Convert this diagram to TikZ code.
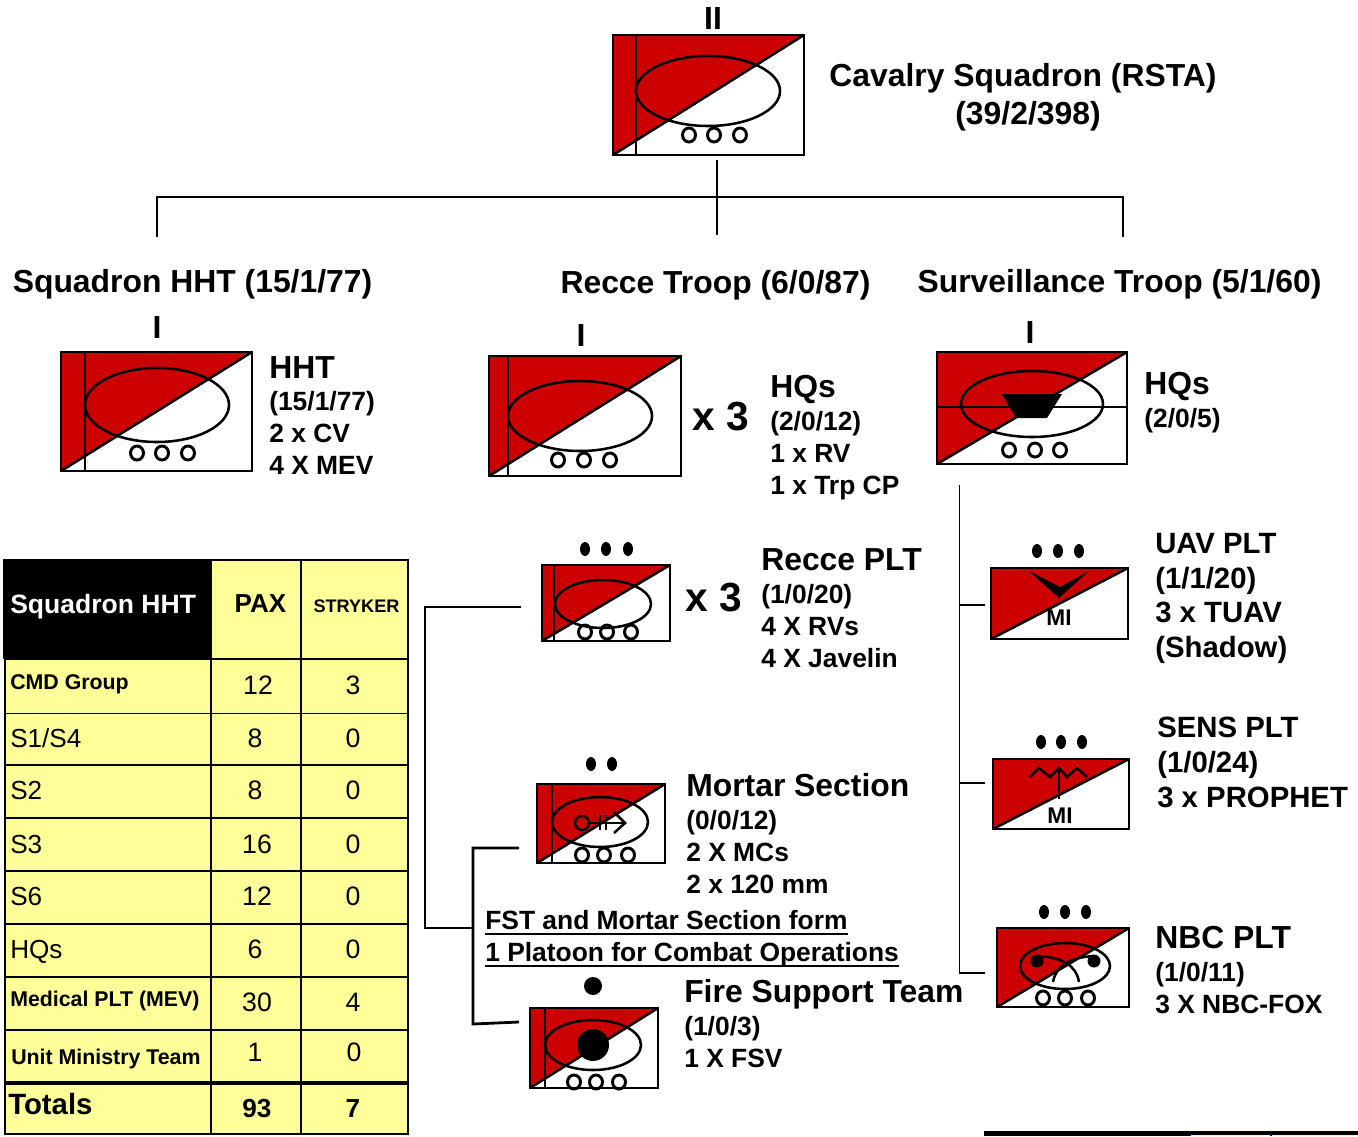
\documentclass[tikz,border=0pt]{standalone}
\usepackage{fontspec}
\setmainfont{Liberation Sans}
\definecolor{unitred}{HTML}{CC0000}
\definecolor{cellyellow}{HTML}{FFFF99}

\tikzset{
	unitline/.style={line width=1.9pt},
	conn/.style={line width=1.4pt},
	connthick/.style={line width=2.1pt},
	rowrule/.style={line width=0.8pt},
	rowrulethick/.style={line width=2.2pt},
	lbl/.style={font=\bfseries\fontsize{19.8}{24}\selectfont, align=left, anchor=north west, inner sep=0pt},
	lblwide/.style={font=\bfseries\fontsize{22}{26}\selectfont, align=left, anchor=north west, inner sep=0pt},
	title/.style={font=\bfseries\fontsize{23.9}{28.5}\selectfont, align=center, inner sep=0pt},
	echelon/.style={font=\bfseries\fontsize{24}{24}\selectfont, inner sep=0pt},
	times/.style={font=\bfseries\fontsize{30.5}{30.5}\selectfont, inner sep=0pt},
	branch/.style={font=\bfseries\fontsize{17}{17}\selectfont, inner sep=0pt},
	rowname/.style={anchor=west, inner sep=0pt},
	rowplain/.style={font=\fontsize{19.6}{19.6}\selectfont},
	rowbold/.style={font=\bfseries\fontsize{16}{16}\selectfont},
	cellnum/.style={font=\fontsize{20}{20}\selectfont, inner sep=0pt},
}

\newcommand{\hd}[1]{{\fontsize{23.9}{24}\selectfont #1}}
\newlength{\ulwidth}
\newcommand{\thickul}[1]{\settowidth{\ulwidth}{#1}\rlap{\rule[-4.4pt]{\ulwidth}{2pt}}#1}

% box with the red half and the diagonal
\newcommand{\unitbox}[4]{
	\fill[unitred] (#1,#2) -- (#3,#2) -- (#1,#4) -- cycle;
	\draw[unitline] (#1,#2) rectangle (#3,#4);
	\draw[unitline] (#1,#4) -- (#3,#2);
}
\newcommand{\rings}[2]{
	\foreach \cx in {#2} \draw[line width=2.2pt] (\cx,#1) ellipse [x radius=6.5, y radius=7];
}
\newcommand{\pltdots}[2]{
	\foreach \cx in {#2} \fill (\cx,#1) ellipse [x radius=5, y radius=7];
}

\begin{document}
\begin{tikzpicture}[x=0.75pt,y=-0.75pt]
	\useasboundingbox (0,0) rectangle (1358,1136);

	% squadron
	\node[echelon] (sqnmark) at (713,18) {II};
	\unitbox{613}{35}{804}{155}
	\draw[unitline] (636,35) -- (636,155);
	\draw[unitline] (708,91) ellipse [x radius=72, y radius=35];
	\rings{135}{689,714,740}
	\node[title] (sqntext) at (1023,97) {Cavalry Squadron (RSTA)\\\hspace*{7.5pt}(39/2/398)};

	% tree under the squadron
	\coordinate (treetop) at (717,160);
	\coordinate (treecen) at (717,235);
	\coordinate (treeleft) at (157,197);
	\coordinate (treeleftend) at (157,237);
	\coordinate (treeright) at (1123,197);
	\coordinate (treerightend) at (1123,237);
	\draw[conn] (treetop) -- (treecen);
	\draw[conn] (treeleftend) -- (treeleft) -- (treeright) -- (treerightend);

	\node[title] (hhttitle) at (192.5,284) {Squadron HHT (15/1/77)};
	\node[title] (reccetitle) at (715.5,285) {Recce Troop (6/0/87)};
	\node[title] (survtitle) at (1119.5,284) {Surveillance Troop (5/1/60)};

	% HHT
	\node[echelon] (hhtmark) at (157,327) {I};
	\unitbox{61}{352}{252}{471}
	\draw[unitline] (85,352) -- (85,471);
	\draw[unitline] (157,405) ellipse [x radius=72, y radius=37];
	\rings{453}{137,162,188}
	\node[lbl] (hhttext) at (269,356) {\hd{HHT}\\[0.3pt](15/1/77)\\2 x CV\\4 X MEV};

	% recce troop
	\node[echelon] (reccemark) at (581,335) {I};
	\unitbox{489}{356}{681}{476}
	\draw[unitline] (508,356) -- (508,476);
	\draw[unitline] (580,416) ellipse [x radius=72, y radius=35];
	\rings{460}{558,584,610}
	\node[times] (reccetimes) at (721,417) {x 3};
	\node[lbl] (reccetext) at (770,375) {\hd{HQs}\\[1pt](2/0/12)\\1 x RV\\1 x Trp CP};

	% surveillance troop
	\node[echelon] (survmark) at (1030,332) {I};
	\unitbox{937}{352}{1127}{464}
	\draw[line width=1pt] (937,407) -- (1127,407);
	\draw[unitline] (1032,404) ellipse [x radius=71, y radius=33];
	\fill (1002,394) -- (1062,394) -- (1047,418) -- (1016,418) -- cycle;
	\rings{450}{1009,1035,1060}
	\node[lbl] (survtext) at (1144,372) {\hd{HQs}\\[1pt](2/0/5)};

	% recce platoon
	\pltdots{549}{585,606,628}
	\unitbox{542}{565}{670}{641}
	\draw[unitline] (554,565) -- (554,641);
	\draw[unitline] (603,604) ellipse [x radius=48, y radius=24];
	\rings{632}{585,607,631}
	\node[times] (plttimes) at (714,598) {x 3};
	\node[lbl] (plttext) at (761,548) {\hd{Recce PLT}\\[1pt](1/0/20)\\4 X RVs\\4 X Javelin};

	% mortar section
	\pltdots{764}{591,612}
	\unitbox{537}{784}{665}{863}
	\draw[unitline] (552,784) -- (552,863);
	\draw[unitline] (600,822) ellipse [x radius=48, y radius=25];
	\draw[unitline] (582,823) circle [radius=7];
	\draw[unitline] (589,823) -- (625,823);
	\draw[unitline] (614,812) -- (625,823) -- (614,833);
	\draw[unitline] (600,815) -- (600,830) (606,815) -- (606,830);
	\rings{855}{582,604,628}
	\node[lbl] (mortext) at (686,773) {\hd{Mortar Section}\\[1pt](0/0/12)\\2 X MCs\\2 x 120 mm};

	% note between the two
	\node[lbl] (fstnote) at (485,910) {\thickul{FST and Mortar Section form}\\\thickul{1 Platoon for Combat Operations}};

	% fire support team
	\fill (593,986) circle [radius=9];
	\unitbox{530}{1008}{658}{1088}
	\draw[unitline] (545,1008) -- (545,1088);
	\draw[unitline] (593,1045) ellipse [x radius=48, y radius=25];
	\fill (593,1045) circle [radius=16];
	\rings{1082}{574,596,619}
	\node[lbl] (fsttext) at (684,979) {\hd{Fire Support Team}\\[1pt](1/0/3)\\1 X FSV};

	% brackets on the left of the platoons
	\coordinate (brkatop) at (521,607);
	\coordinate (brkatopin) at (425,607);
	\coordinate (brkabot) at (425,928);
	\coordinate (brkabotend) at (473,928);
	\draw[conn] (brkatop) -- (brkatopin) -- (brkabot) -- (brkabotend);
	\coordinate (brkbtop) at (519,848);
	\coordinate (brkbtopin) at (473,848);
	\coordinate (brkbbot) at (473,1024);
	\coordinate (brkbend) at (519,1022);
	\draw[connthick] (brkbtop) -- (brkbtopin) -- (brkbbot) -- (brkbend);

	% UAV platoon
	\pltdots{551}{1037,1058,1079}
	\unitbox{991}{568}{1128}{639}
	\fill (1029,571) -- (1060,587) -- (1089,571) -- (1059,598) -- cycle;
	\node[branch] (uavmi) at (1059,618) {MI};
	\node[lblwide] (uavtext) at (1155,533) {UAV PLT\\(1/1/20)\\3 x TUAV\\(Shadow)};

	% sensor platoon
	\pltdots{742}{1041,1061,1082}
	\unitbox{993}{759}{1129}{829}
	\draw[unitline] (1030,777) -- (1039,768) -- (1050,777) -- (1059,768) -- (1067,777) -- (1077,768) -- (1087,777);
	\draw[unitline] (1059,768) -- (1059,799);
	\node[branch] (sensmi) at (1060,816) {MI};
	\node[lblwide] (senstext) at (1157,717) {SENS PLT\\(1/0/24)\\3 x PROPHET};

	% NBC platoon
	\pltdots{912}{1044,1065,1086}
	\unitbox{997}{928}{1129}{1007}
	\draw[unitline] (1065,966) ellipse [x radius=45, y radius=23];
	\fill (1037,961) circle [radius=6.5] (1094,961) circle [radius=6.5];
	\draw[unitline] (1037,956) .. controls (1062,957) and (1076,965) .. (1079,982);
	\draw[unitline] (1094,956) .. controls (1072,957) and (1056,965) .. (1053,982);
	\rings{998}{1043,1065,1088}
	\node[lbl] (nbctext) at (1155,926) {\hd{NBC PLT}\\[1pt](1/0/11)\\3 X NBC-FOX};

	% trunk of the surveillance troop
	\coordinate (trunktop) at (959.5,485);
	\coordinate (stubuav) at (959.5,605);
	\coordinate (stubuavend) at (985,605);
	\coordinate (stubsens) at (959.5,783);
	\coordinate (stubsensend) at (985,783);
	\coordinate (trunkbot) at (959.5,973);
	\coordinate (stubnbcend) at (985,973);
	\draw[conn] (trunktop) -- (trunkbot) -- (stubnbcend);
	\draw[conn] (stubuav) -- (stubuavend);
	\draw[conn] (stubsens) -- (stubsensend);

	% table
	\fill[cellyellow] (5,560) rectangle (408,1134);
	\fill (3,559) rectangle (211,659);
	\draw[rowrule] (5,713.5) -- (408,713.5) (5,765) -- (408,765) (5,818) -- (408,818);
	\draw[rowrulethick] (5,659) -- (408,659);
	\foreach \ry in {871,924,977,1030} \draw[rowrulethick] (5,\ry) -- (408,\ry);
	\draw[line width=3.4pt] (5,1083) -- (408,1083);
	\draw[rowrulethick] (5,560) -- (5,1134) -- (408,1134) -- (408,560) -- cycle;
	\draw[rowrulethick] (211,560) -- (211,1134) (301,560) -- (301,1134);

	\node[rowname,text=white,font=\bfseries\fontsize{19.9}{19.9}\selectfont] (hdrname) at (10,607) {Squadron HHT};
	\node[cellnum,font=\bfseries\fontsize{19.5}{19.5}\selectfont] (hdrpax) at (260.5,604) {PAX};
	\node[cellnum,font=\bfseries\fontsize{13.6}{13.6}\selectfont] (hdrstk) at (356.5,606) {STRYKER};

	\foreach \rowid/\lx/\ly/\ny/\rowtxt/\rowstyle/\px/\pax/\sx/\stk in {
		cmd/10/684.5/685/CMD Group/rowbold/258/12/353/3,
		adm/10/738/738/{S1/S4}/rowplain/255/8/353/0,
		sii/10/790/790/S2/rowplain/255/8/353/0,
		siii/10/844/844/S3/rowplain/257/16/353/0,
		svi/10/896/896/S6/rowplain/257/12/353/0,
		hqs/10/951.5/949/HQs/rowplain/255/6/353/0,
		med/10/1001/1002/Medical PLT (MEV)/rowbold/257/30/353/4,
		umt/11/1058.5/1052/Unit Ministry Team/rowbold/255/1/354/0%
	}{
		\node[rowname,\rowstyle] (name\rowid) at (\lx,\ly) {\rowtxt};
		\node[cellnum] (pax\rowid) at (\px,\ny) {\pax};
		\node[cellnum] (stk\rowid) at (\sx,\ny) {\stk};
	}
	\node[rowname,font=\bfseries\fontsize{22}{22}\selectfont] (totname) at (8,1104) {Totals};
	\node[cellnum,font=\bfseries\fontsize{19.6}{19.6}\selectfont] (totpax) at (257,1108) {93};
	\node[cellnum,font=\bfseries\fontsize{19.6}{19.6}\selectfont] (totstk) at (353,1108) {7};

	% edge of the next table, cut by the page
	\fill[cellyellow] (1191,1134) rectangle (1358,1136);
	\fill (984,1131) rectangle (1358,1134.5);
	\fill (984,1134.5) rectangle (1191,1136);
	\fill (1270,1134.5) rectangle (1272,1136);
\end{tikzpicture}
\end{document}
